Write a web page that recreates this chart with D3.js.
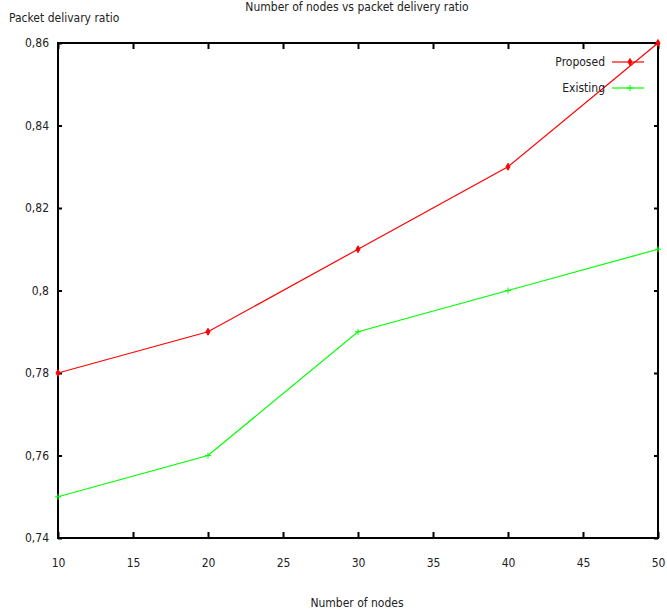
<!DOCTYPE html>
<html><head><meta charset="utf-8">
<script src="https://cdn.jsdelivr.net/npm/d3@7"></script>
<style>body{margin:0;background:#fff}svg{display:block}text{font-family:"DejaVu Sans Condensed","DejaVu Sans",sans-serif;font-size:12px;fill:#222}</style>
</head><body>
<svg id="c" width="667" height="613"></svg>
<script>
const nodes = [10, 20, 30, 40, 50];
const proposed = [0.78, 0.79, 0.81, 0.83, 0.86];
const existing = [0.75, 0.76, 0.79, 0.80, 0.81];
const xTicks = [10, 15, 20, 25, 30, 35, 40, 45, 50];
const yTicks = [0.74, 0.76, 0.78, 0.80, 0.82, 0.84, 0.86];
const seriesNames = ["Proposed", "Existing"];
const seriesColors = ["#ff0000", "#00ff00"];

const svg = d3.select("#c");
const L = 58, R = 658, T = 43, B = 538;
const x = d3.scaleLinear().domain([10, 50]).range([L, R]);
const y = d3.scaleLinear().domain([0.74, 0.86]).range([B, T]);
const fmtY = d => d3.format(".2f")(d).replace(/0$/, "").replace(".", ",");

const ax = (gen, tr) => svg.append("g").attr("transform", tr).call(gen);
const gBottom = ax(d3.axisBottom(x).tickValues(xTicks).tickSize(-6).tickPadding(20).tickFormat(d3.format("d")), `translate(0,${B})`);
const gTop = ax(d3.axisTop(x).tickValues(xTicks).tickSize(-6).tickFormat(""), `translate(0,${T})`);
const gLeft = ax(d3.axisLeft(y).tickValues(yTicks).tickSize(-4).tickPadding(9).tickFormat(fmtY), `translate(${L},0)`);
const gRight = ax(d3.axisRight(y).tickValues(yTicks).tickSize(-4).tickFormat(""), `translate(${R},0)`);
[gBottom, gTop, gLeft, gRight].forEach(g => {
  g.select(".domain").remove();
  g.selectAll(".tick line").attr("stroke", "#000").attr("stroke-width", 2);
  g.selectAll(".tick text").style("font-family", '"DejaVu Sans Condensed",sans-serif').style("font-size", "12px").attr("fill", "#222");
});
svg.append("rect").attr("x", L).attr("y", T).attr("width", R - L).attr("height", B - T)
  .attr("fill", "none").attr("stroke", "#000").attr("stroke-width", 2);

const line = d3.line().x((d, i) => x(nodes[i])).y(d => y(d));
[proposed, existing].forEach((s, k) => {
  svg.append("path").datum(s).attr("d", line).attr("fill", "none")
    .attr("stroke", seriesColors[k]).attr("stroke-width", 1.2);
  svg.selectAll(null).data(s).enter().append("path")
    .attr("transform", (d, i) => `translate(${x(nodes[i])},${y(d)})`)
    .attr("d", k === 0 ? d3.symbol(d3.symbolDiamond, 14)() : "M-3,0H3M0,-3V3")
    .attr("fill", seriesColors[k]).attr("stroke", seriesColors[k]).attr("stroke-width", 1);
});

seriesNames.forEach((n, k) => {
  const ly = 62 + k * 26;
  svg.append("text").attr("x", 605).attr("y", ly + 4).attr("text-anchor", "end").text(n);
  svg.append("line").attr("x1", 612).attr("x2", 644).attr("y1", ly).attr("y2", ly)
    .attr("stroke", seriesColors[k]).attr("stroke-width", 1.2);
  svg.append("path").attr("transform", `translate(630,${ly})`)
    .attr("d", k === 0 ? d3.symbol(d3.symbolDiamond, 14)() : "M-3,0H3M0,-3V3")
    .attr("fill", seriesColors[k]).attr("stroke", seriesColors[k]).attr("stroke-width", 1);
});

svg.append("text").attr("x", 357).attr("y", 11).attr("text-anchor", "middle").text("Number of nodes vs packet delivery ratio");
svg.append("text").attr("x", 9).attr("y", 22).text("Packet delivary ratio");
svg.append("text").attr("x", 357).attr("y", 607).attr("text-anchor", "middle").text("Number of nodes");
</script>
</body></html>
